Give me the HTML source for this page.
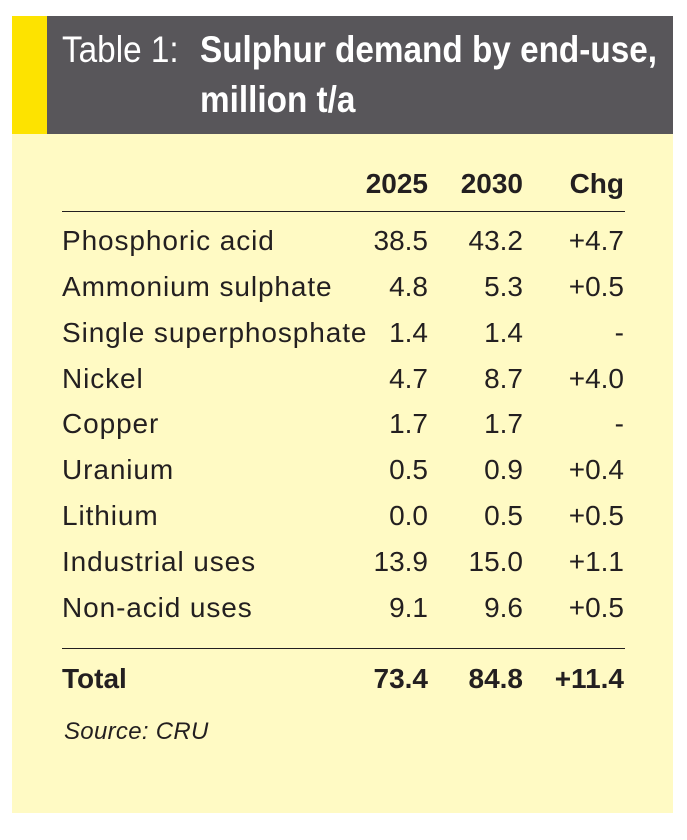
<!DOCTYPE html>
<html><head><meta charset="utf-8"><style>
body{margin:0;width:687px;height:840px;background:#fff;position:relative;font-family:"Liberation Sans",sans-serif;color:#231f20}
.p{position:absolute;left:12px;top:16px;width:661px;height:797px;background:#fffac4}
.h{position:absolute;left:12px;top:16px;width:661px;height:118px;background:#58565a}
.y{position:absolute;left:12px;top:16px;width:35px;height:118px;background:#fde300}
.t{position:absolute;color:#fff;font-size:37px;line-height:40px;white-space:nowrap;transform:scaleX(0.9);transform-origin:left}
.r{position:absolute;font-size:28px;line-height:32px;white-space:nowrap;letter-spacing:0.9px}
.n{text-align:right;width:100px;letter-spacing:0}
.b{font-weight:bold}
.l{position:absolute;left:62px;width:563px;height:1px;background:#231f20}
</style></head><body>
<div class="p"></div><div class="h"></div><div class="y"></div>
<div class="t" style="left:62px;top:30px">Table 1:</div>
<div class="t" style="left:200px;top:30px"><b>Sulphur demand by end-use,</b></div>
<div class="t" style="left:200px;top:80px"><b>million t/a</b></div>

<div class="r n b" style="left:328px;top:168px">2025</div>
<div class="r n b" style="left:423px;top:168px">2030</div>
<div class="r n b" style="left:524px;top:168px">Chg</div>
<div class="l" style="top:211px"></div>

<div class="r" style="left:62px;top:225px">Phosphoric acid</div><div class="r n" style="left:328px;top:225px">38.5</div><div class="r n" style="left:423px;top:225px">43.2</div><div class="r n" style="left:524px;top:225px">+4.7</div>
<div class="r" style="left:62px;top:271px">Ammonium sulphate</div><div class="r n" style="left:328px;top:271px">4.8</div><div class="r n" style="left:423px;top:271px">5.3</div><div class="r n" style="left:524px;top:271px">+0.5</div>
<div class="r" style="left:62px;top:317px">Single superphosphate</div><div class="r n" style="left:328px;top:317px">1.4</div><div class="r n" style="left:423px;top:317px">1.4</div><div class="r n" style="left:524px;top:317px">-</div>
<div class="r" style="left:62px;top:363px">Nickel</div><div class="r n" style="left:328px;top:363px">4.7</div><div class="r n" style="left:423px;top:363px">8.7</div><div class="r n" style="left:524px;top:363px">+4.0</div>
<div class="r" style="left:62px;top:408px">Copper</div><div class="r n" style="left:328px;top:408px">1.7</div><div class="r n" style="left:423px;top:408px">1.7</div><div class="r n" style="left:524px;top:408px">-</div>
<div class="r" style="left:62px;top:454px">Uranium</div><div class="r n" style="left:328px;top:454px">0.5</div><div class="r n" style="left:423px;top:454px">0.9</div><div class="r n" style="left:524px;top:454px">+0.4</div>
<div class="r" style="left:62px;top:500px">Lithium</div><div class="r n" style="left:328px;top:500px">0.0</div><div class="r n" style="left:423px;top:500px">0.5</div><div class="r n" style="left:524px;top:500px">+0.5</div>
<div class="r" style="left:62px;top:546px">Industrial uses</div><div class="r n" style="left:328px;top:546px">13.9</div><div class="r n" style="left:423px;top:546px">15.0</div><div class="r n" style="left:524px;top:546px">+1.1</div>
<div class="r" style="left:62px;top:592px">Non-acid uses</div><div class="r n" style="left:328px;top:592px">9.1</div><div class="r n" style="left:423px;top:592px">9.6</div><div class="r n" style="left:524px;top:592px">+0.5</div>
<div class="l" style="top:648px"></div>
<div class="r b" style="left:62px;top:663px;letter-spacing:0">Total</div><div class="r n b" style="left:328px;top:663px">73.4</div><div class="r n b" style="left:423px;top:663px">84.8</div><div class="r n b" style="left:524px;top:663px">+11.4</div>
<div class="r" style="left:64px;top:716px;font-size:24px;font-style:italic;letter-spacing:0.3px">Source: CRU</div>
</body></html>
